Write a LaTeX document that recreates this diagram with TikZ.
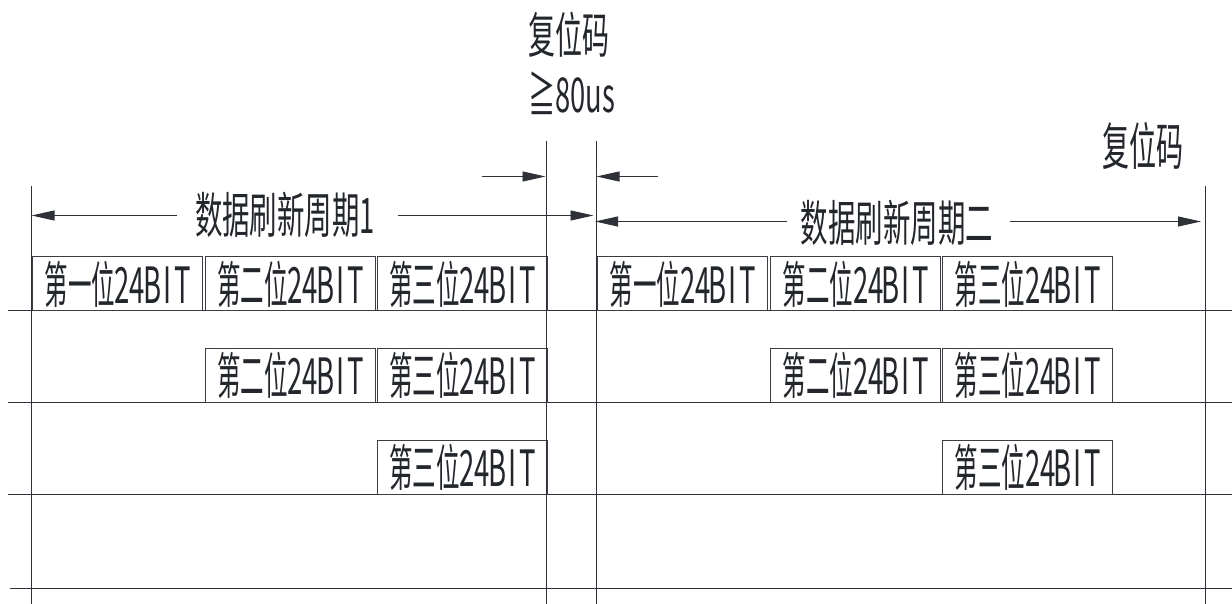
\documentclass[tikz,border=0pt]{standalone}
\usepackage{fontspec}
\setmainfont{Noto Sans CJK SC}
\usetikzlibrary{arrows.meta}
\definecolor{lc}{HTML}{2E3238}
\definecolor{bc}{HTML}{3A3E44}
\definecolor{tc}{HTML}{23272C}
\newcommand\monoch[1]{\makebox[15pt]{\scalebox{0.55}[1]{#1}}}
\newcommand\bittxt[1]{\fontsize{50}{50}\selectfont\scalebox{0.47}[1]{#1}\monoch{2}\monoch{4}\monoch{B}\monoch{I}\monoch{T}}
\begin{document}
\begin{tikzpicture}[x=1pt,y=-1pt,
  ln/.style={draw=lc,line width=0.9pt},
  bitbox/.style={draw=bc,line width=0.9pt,minimum width=170pt,minimum height=54pt,
    text height=46.7pt,text depth=7.3pt,inner sep=0pt,outer sep=0pt,anchor=south west,text=tc},
  dimarrow/.style={draw=lc,line width=0.9pt,-{Triangle[length=23pt,width=10pt]}},
  lbl/.style={inner sep=0pt,outer sep=0pt,anchor=base,text=tc}]
\useasboundingbox (0,0) rectangle (1232,604);
% vertical reference lines
\coordinate (v1t) at (31,186);    \coordinate (v1b) at (31,604);
\coordinate (v2t) at (546.7,141); \coordinate (v2b) at (546.7,604);
\coordinate (v3t) at (596,141);   \coordinate (v3b) at (596,604);
\coordinate (v4t) at (1205,186);  \coordinate (v4b) at (1205,604);
\draw[ln] (v1t) -- (v1b);
\draw[ln] (v2t) -- (v2b);
\draw[ln] (v3t) -- (v3b);
\draw[ln] (v4t) -- (v4b);
% horizontal lines
\coordinate (h1l) at (8,310.5);  \coordinate (h1r) at (1232,310.5);
\coordinate (h2l) at (8,402);    \coordinate (h2r) at (1232,402);
\coordinate (h3l) at (8,494);    \coordinate (h3r) at (1232,494);
\coordinate (h4l) at (10,588);   \coordinate (h4r) at (1232,588);
\draw[ln] (h1l) -- (h1r);
\draw[ln] (h2l) -- (h2r);
\draw[ln] (h3l) -- (h3r);
\draw[ln] (h4l) -- (h4r);
% labels
\node[lbl] (rst1) at (569,53.5) {\fontsize{49}{49}\selectfont\scalebox{0.55}[1]{复位码}};
\node[lbl,anchor=base west] (rstt) at (528,113) {\fontsize{48}{48}\selectfont\scalebox{0.57}[1]{≧80us}};
\node[lbl] (rst2) at (1143.3,166) {\fontsize{51}{51}\selectfont\scalebox{0.53}[1]{复位码}};
\node[lbl] (t1) at (285,233.2) {\fontsize{49}{49}\selectfont\scalebox{0.56}[1]{数据刷新周期1}};
\node[lbl] (t2) at (897,241.5) {\fontsize{49}{49}\selectfont\scalebox{0.56}[1]{数据刷新周期二}};
% dimension arrows
\coordinate (d1a) at (177,215.5);  \coordinate (d1L) at (31.5,215.5);
\coordinate (d1b) at (398,215.5);  \coordinate (d1R) at (593.5,215.5);
\coordinate (d2a) at (787,221.5);  \coordinate (d2L) at (595,221.5);
\coordinate (d2b) at (1010,221.5); \coordinate (d2R) at (1201,221.5);
\coordinate (s1a) at (481.7,176.5); \coordinate (s1b) at (545.5,176.5);
\coordinate (s2a) at (658,176.5);   \coordinate (s2b) at (596.5,176.5);
\draw[dimarrow] (d1a) -- (d1L);
\draw[dimarrow] (d1b) -- (d1R);
\draw[dimarrow] (d2a) -- (d2L);
\draw[dimarrow] (d2b) -- (d2R);
\draw[dimarrow] (s1a) -- (s1b);
\draw[dimarrow] (s2a) -- (s2b);
% bit boxes, period 1
\node[bitbox] (a11) at (32.3,310.5) {\bittxt{第一位}};
\node[bitbox] (a12) at (205,310.5) {\bittxt{第二位}};
\node[bitbox] (a13) at (377,310.5) {\bittxt{第三位}};
\node[bitbox] (a22) at (205,402) {\bittxt{第二位}};
\node[bitbox] (a23) at (377,402) {\bittxt{第三位}};
\node[bitbox] (a33) at (377,494) {\bittxt{第三位}};
% bit boxes, period 2
\node[bitbox] (b11) at (597.5,310.5) {\bittxt{第一位}};
\node[bitbox] (b12) at (770.5,310.5) {\bittxt{第二位}};
\node[bitbox] (b13) at (942.6,310.5) {\bittxt{第三位}};
\node[bitbox] (b22) at (770.5,402) {\bittxt{第二位}};
\node[bitbox] (b23) at (942.6,402) {\bittxt{第三位}};
\node[bitbox] (b33) at (942.6,494) {\bittxt{第三位}};
\end{tikzpicture}
\end{document}
